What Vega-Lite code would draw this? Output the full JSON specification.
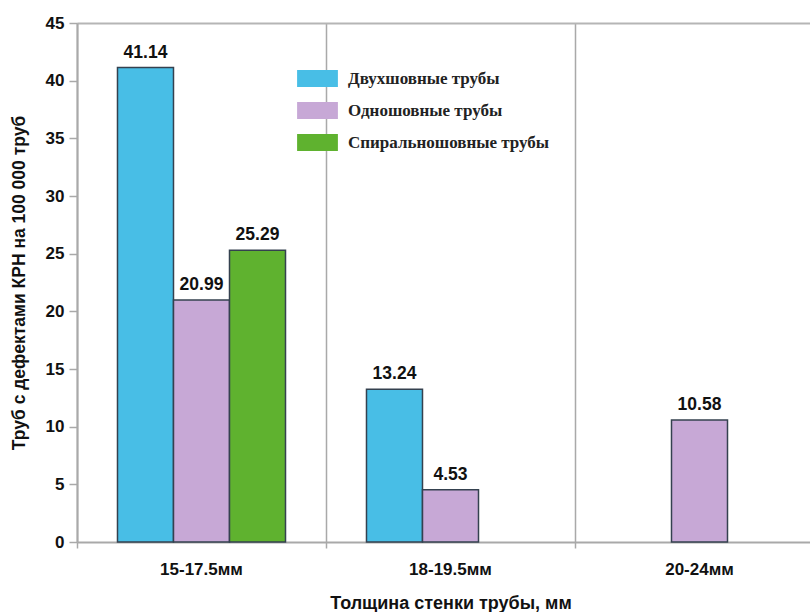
{
  "$schema": "https://vega.github.io/schema/vega-lite/v6.json",
  "autosize": {"type": "none"},
  "width": 733,
  "height": 519,
  "padding": {"left": 77, "top": 23, "right": 0, "bottom": 70},
  "background": "white",
  "config": {"view": {"stroke": null}, "font": "Liberation Sans"},
  "data": {
    "values": [
      {"thickness": "15-17.5мм", "type": "Двухшовные трубы", "value": 41.14},
      {"thickness": "15-17.5мм", "type": "Одношовные трубы", "value": 20.99},
      {"thickness": "15-17.5мм", "type": "Спиральношовные трубы", "value": 25.29},
      {"thickness": "18-19.5мм", "type": "Двухшовные трубы", "value": 13.24},
      {"thickness": "18-19.5мм", "type": "Одношовные трубы", "value": 4.53},
      {"thickness": "20-24мм", "type": "Одношовные трубы", "value": 10.58}
    ]
  },
  "encoding": {
    "x": {
      "field": "thickness",
      "type": "nominal",
      "title": "Толщина стенки трубы, мм",
      "scale": {
        "domain": ["15-17.5мм", "18-19.5мм", "20-24мм"],
        "range": [0, 747],
        "paddingInner": 0,
        "paddingOuter": 0
      },
      "axis": {
        "labelAngle": 0,
        "labelFontSize": 17,
        "labelFontWeight": "bold",
        "labelColor": "#111111",
        "labelPadding": 13,
        "domainColor": "#a9a9a9",
        "domainWidth": 2,
        "grid": true,
        "bandPosition": 0,
        "gridColor": "#a9a9a9",
        "gridWidth": 1.5,
        "ticks": true,
        "tickColor": "#a9a9a9",
        "tickWidth": 1.5,
        "tickSize": 6,
        "titleFontSize": 18,
        "titleFontWeight": "bold",
        "titleColor": "#111111",
        "titleY": 66,
        "titleBaseline": "alphabetic"
      }
    },
    "xOffset": {
      "field": "type",
      "type": "nominal",
      "scale": {
        "domain": ["Двухшовные трубы", "Одношовные трубы", "Спиральношовные трубы"],
        "paddingInner": 0,
        "paddingOuter": 0.723
      }
    },
    "y": {
      "field": "value",
      "type": "quantitative",
      "title": "Труб с дефектами КРН на 100 000 труб",
      "scale": {"domain": [0, 45], "nice": false},
      "axis": {
        "values": [0, 5, 10, 15, 20, 25, 30, 35, 40, 45],
        "labelFontSize": 17,
        "labelFontWeight": "bold",
        "labelColor": "#111111",
        "labelPadding": 5,
        "domainColor": "#a9a9a9",
        "domainWidth": 2,
        "tickColor": "#a9a9a9",
        "tickWidth": 1.5,
        "tickSize": 8,
        "grid": true,
        "gridColor": "#b5b5b5",
        "gridWidth": 2,
        "gridOpacity": {"condition": {"test": "datum.value === 45", "value": 1}, "value": 0},
        "titleFontSize": 17.5,
        "titleFontWeight": "bold",
        "titleColor": "#111111",
        "titleX": -58,
        "titleY": 259.5,
        "titleBaseline": "middle"
      }
    }
  },
  "layer": [
    {
      "mark": {"type": "bar", "stroke": "#34414f", "strokeWidth": 1.5, "opacity": 1},
      "encoding": {
        "color": {
          "field": "type",
          "type": "nominal",
          "scale": {
            "domain": ["Двухшовные трубы", "Одношовные трубы", "Спиральношовные трубы"],
            "range": ["#48bee6", "#c7a8d6", "#5fb22f"]
          },
          "legend": {
            "orient": "none",
            "legendX": 232,
            "legendY": 47,
            "title": null,
            "symbolType": "M-2.4,-1H2.4V1H-2.4Z",
            "symbolSize": 289,
            "symbolStrokeWidth": 0,
            "symbolOpacity": 1,
            "labelFont": "Liberation Serif",
            "labelFontSize": 17,
            "labelFontWeight": "bold",
            "labelColor": "#222222",
            "labelOffset": 22,
            "labelLimit": 0,
            "rowPadding": 14
          }
        }
      }
    },
    {
      "mark": {"type": "text", "dy": -10, "baseline": "alphabetic", "fontSize": 17.5, "fontWeight": "bold", "color": "#111111"},
      "encoding": {
        "text": {"field": "value", "type": "quantitative", "format": ".2f"}
      }
    }
  ]
}
